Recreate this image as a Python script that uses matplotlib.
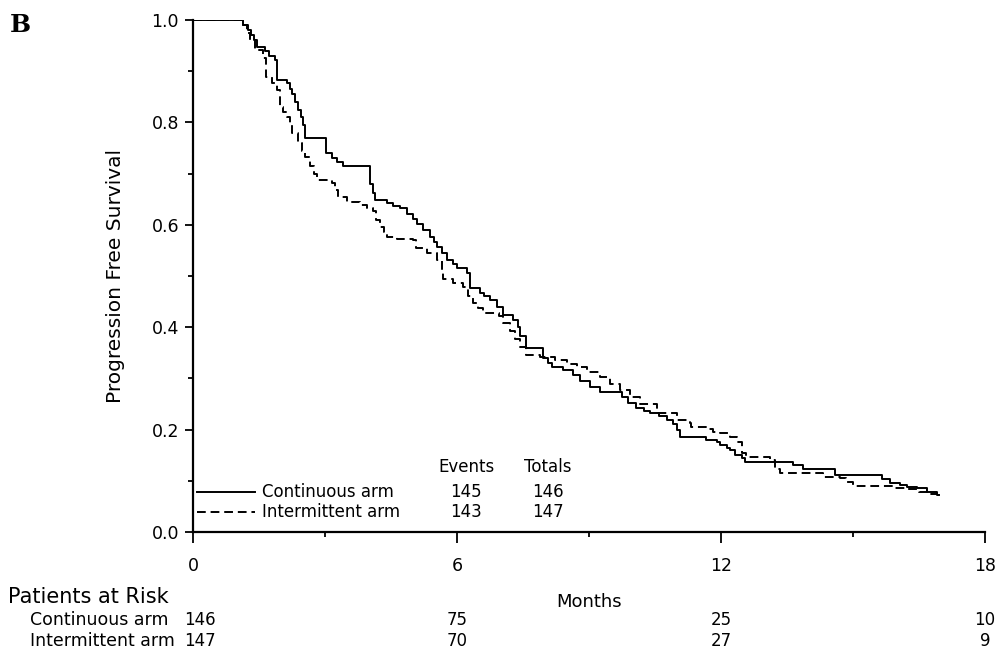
import matplotlib
matplotlib.use("Agg")
import matplotlib.pyplot as plt
import matplotlib.transforms as mtransforms
from matplotlib.lines import Line2D
import numpy as np

plt.rcParams['font.family'] = ['DejaVu Sans']

# ---- Data ----
cont_t = [0, 1.14, 1.25, 1.32, 1.38, 1.45, 1.64, 1.72, 1.86, 1.90, 2.13, 2.20, 2.26, 2.32,
          2.38, 2.45, 2.51, 2.55, 3.02, 3.15, 3.27, 3.42, 4.02, 4.08, 4.14, 4.40, 4.55,
          4.70, 4.86, 5.00, 5.10, 5.23, 5.39, 5.47, 5.54, 5.66, 5.77, 5.90, 5.99, 6.22,
          6.30, 6.52, 6.62, 6.75, 6.90, 7.05, 7.28, 7.39, 7.43, 7.58, 7.95, 8.08, 8.15,
          8.42, 8.64, 8.80, 9.02, 9.25, 9.74, 9.89, 10.08, 10.25, 10.39, 10.60, 10.77,
          10.90, 11.00, 11.07, 11.67, 11.90, 11.98, 12.13, 12.20, 12.32, 12.47, 12.55,
          13.64, 13.87, 14.59, 15.65, 15.84, 16.07, 16.22, 16.45, 16.68, 16.90, 16.95]
cont_s = [1.0, 0.99, 0.98, 0.97, 0.96, 0.948, 0.94, 0.93, 0.922, 0.883, 0.876, 0.865, 0.855,
          0.84, 0.825, 0.81, 0.795, 0.77, 0.74, 0.73, 0.722, 0.714, 0.68, 0.662, 0.648,
          0.642, 0.637, 0.632, 0.622, 0.612, 0.602, 0.590, 0.577, 0.566, 0.557, 0.545,
          0.531, 0.524, 0.516, 0.505, 0.476, 0.466, 0.46, 0.453, 0.44, 0.424, 0.414, 0.401,
          0.382, 0.36, 0.34, 0.33, 0.323, 0.316, 0.307, 0.294, 0.284, 0.274, 0.264, 0.251,
          0.242, 0.237, 0.232, 0.226, 0.219, 0.21, 0.199, 0.186, 0.18, 0.176, 0.170, 0.165,
          0.160, 0.150, 0.144, 0.137, 0.131, 0.124, 0.111, 0.103, 0.095, 0.092, 0.088,
          0.085, 0.079, 0.072, 0.072]

int_t = [0, 1.14, 1.22, 1.30, 1.41, 1.60, 1.67, 1.79, 1.90, 1.98, 2.05, 2.13, 2.20, 2.24,
         2.39, 2.47, 2.55, 2.66, 2.74, 2.81, 3.15, 3.23, 3.30, 3.49, 3.80, 3.95, 4.10, 4.17,
         4.25, 4.33, 4.40, 4.63, 5.00, 5.08, 5.31, 5.54, 5.65, 5.69, 5.92, 6.14, 6.26, 6.37,
         6.48, 6.60, 6.95, 7.05, 7.20, 7.32, 7.43, 7.58, 7.89, 8.23, 8.49, 8.72, 8.95, 9.25,
         9.48, 9.70, 9.93, 10.16, 10.54, 11.00, 11.30, 11.33, 11.67, 11.83, 11.98, 12.20,
         12.36, 12.47, 12.58, 13.11, 13.23, 13.34, 14.33, 14.70, 14.85, 15.00, 15.90, 16.20,
         16.50, 16.75, 16.90]
int_s = [1.0, 0.99, 0.975, 0.96, 0.941, 0.925, 0.889, 0.876, 0.863, 0.831, 0.82, 0.811,
         0.795, 0.779, 0.759, 0.745, 0.733, 0.714, 0.70, 0.688, 0.681, 0.668, 0.655, 0.645,
         0.639, 0.633, 0.626, 0.609, 0.596, 0.586, 0.577, 0.572, 0.57, 0.554, 0.544, 0.531,
         0.512, 0.495, 0.486, 0.479, 0.46, 0.447, 0.437, 0.427, 0.421, 0.408, 0.392, 0.376,
         0.362, 0.346, 0.342, 0.336, 0.329, 0.323, 0.313, 0.303, 0.290, 0.277, 0.264, 0.250,
         0.232, 0.219, 0.212, 0.206, 0.202, 0.196, 0.193, 0.186, 0.175, 0.154, 0.147, 0.141,
         0.124, 0.115, 0.108, 0.105, 0.098, 0.089, 0.086, 0.083, 0.079, 0.075, 0.075]

arm_labels = ["Continuous arm", "Intermittent arm"]
events = [145, 143]
totals = [146, 147]

risk_times = [0, 6, 12, 18]
risk_cont = [146, 75, 25, 10]
risk_int = [147, 70, 27, 9]

# ---- Figure ----
fig = plt.figure(figsize=(10.02, 6.55), dpi=100)
ax = fig.add_axes([0.1926, 0.1878, 0.7904, 0.7817])

ax.step(cont_t, cont_s, where='post', color='black', lw=1.4)
ax.step(int_t, int_s, where='post', color='black', lw=1.4, linestyle=(0, (4.5, 2.5)))

ax.set_xlim(0, 18)
ax.set_ylim(0, 1.0)
for s in ['top', 'right']:
    ax.spines[s].set_visible(False)
for s in ['left', 'bottom']:
    ax.spines[s].set_linewidth(1.6)

ax.set_xticks(risk_times)
ax.set_xticks([3, 9, 15], minor=True)
ax.set_yticks([0.0, 0.2, 0.4, 0.6, 0.8, 1.0])
ax.set_yticks([0.1, 0.3, 0.5, 0.7, 0.9], minor=True)
ax.set_yticklabels(["0.0", "0.2", "0.4", "0.6", "0.8", "1.0"])
ax.tick_params(axis='both', which='major', direction='out', length=6, width=1.3,
               labelsize=12.5, pad=4)
ax.tick_params(axis='x', which='major', length=8, pad=10)
ax.tick_params(axis='both', which='minor', direction='out', length=3.5, width=1.3)
ax.set_ylabel("Progression Free Survival", fontsize=14.5, labelpad=19)

# In-plot legend / events table
leg_y = [0.078, 0.040]
styles = ['-', (0, (4.5, 2.5))]
for yy, st, lab, ev, tot in zip(leg_y, styles, arm_labels, events, totals):
    ax.add_line(Line2D([0.005, 0.078], [yy, yy], transform=ax.transAxes,
                       color='black', lw=1.4, linestyle=st))
    ax.text(0.087, yy, lab, transform=ax.transAxes, fontsize=12, va='center', ha='left')
    ax.text(0.345, yy, str(ev), transform=ax.transAxes, fontsize=12, va='center', ha='center')
    ax.text(0.448, yy, str(tot), transform=ax.transAxes, fontsize=12, va='center', ha='center')
ax.text(0.345, 0.127, "Events", transform=ax.transAxes, fontsize=12, va='center', ha='center')
ax.text(0.448, 0.127, "Totals", transform=ax.transAxes, fontsize=12, va='center', ha='center')

# Panel letter
fig.text(0.010, 0.962, "B", fontsize=18, fontweight='bold', family='DejaVu Serif',
         va='center', ha='left')

# Risk table
trans = mtransforms.blended_transform_factory(ax.transData, fig.transFigure)
fig.text(0.008, 0.088, "Patients at Risk", fontsize=15, va='center', ha='left')
fig.text(0.030, 0.053, arm_labels[0], fontsize=12.5, va='center', ha='left')
fig.text(0.030, 0.021, arm_labels[1], fontsize=12.5, va='center', ha='left')
fig.text(9, 0.081, "Months", fontsize=13, va='center', ha='center', transform=trans)
for t, c, i in zip(risk_times, risk_cont, risk_int):
    xx = t + 0.15 if t == 0 else t
    fig.text(xx, 0.053, str(c), fontsize=12, va='center', ha='center', transform=trans)
    fig.text(xx, 0.021, str(i), fontsize=12, va='center', ha='center', transform=trans)

fig.savefig("out.png", dpi=100)
